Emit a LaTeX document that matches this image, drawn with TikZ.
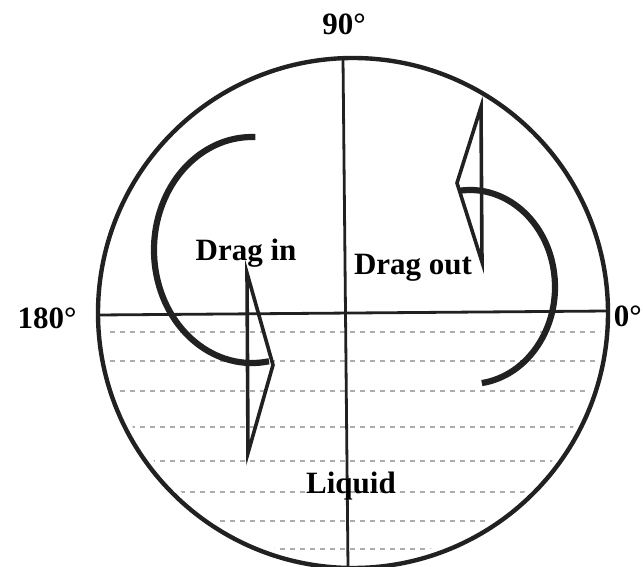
\documentclass[tikz,border=0pt]{standalone}
\usepackage{fontspec}
\setmainfont{Liberation Serif}
\usepackage{tikz}
\usetikzlibrary{positioning}
\definecolor{inkgray}{rgb}{0.13, 0.13, 0.13}
\definecolor{liquidgray}{rgb}{0.68, 0.68, 0.68}

\begin{document}
\begin{tikzpicture}[x=1pt, y=-1pt]
% Define styles
\tikzset{vessel/.style={inkgray, line width=4.4pt},
  axis line/.style={inkgray, line width=2.8pt},
  flow arc/.style={inkgray, line width=6.2pt},
  flow head/.style={inkgray, line width=3.6pt, line join=miter},
  liquid level/.style={liquidgray, line width=1.3pt, dash pattern=on 5pt off 5pt},
  label text/.style={inner sep=0pt, font=\bfseries\fontsize{31}{35}\selectfont}}

% Parameters
\def\rvessel{255} % Radius of the vessel

\useasboundingbox (0,0) rectangle (643,567);

% Liquid levels
\begin{scope}
  \clip (353,313) circle (248);
  \foreach \lev in {332, 361, 391, 427, 461, 492, 521, 549}
    \draw[liquid level] (100,\lev) -- (610,\lev);
\end{scope}

% Vessel and axes
\draw[vessel] (353,313) circle (\rvessel);
\draw[axis line] (98,315) -- (608,311);
\draw[axis line] (343,58) -- (348,567);

% Drag in
\draw[flow arc] (252,250) ++(80:98 and 113) arc[start angle=80, end angle=272, x radius=98, y radius=113];
\draw[flow head] (247,273) -- (273,365) -- (248,453) -- cycle;

% Drag out
\draw[flow arc] (470,287) ++(82:85 and 97) arc[start angle=82, end angle=-97, x radius=85, y radius=97];
\draw[flow head] (481,107) -- (457,183) -- (482,262) -- cycle;

% Labels
\node[label text] (top) at (344,24) {90°};
\node[label text] (left) at (47,318) {180°};
\node[label text, anchor=east] (right) at (642,316) {0°};
\node[label text] (in) at (246,253) {Drag in};
\node[label text] (out) at (413,268) {Drag out};
\node[label text] (liquid) at (351,486) {Liquid};
\end{tikzpicture}
\end{document}
